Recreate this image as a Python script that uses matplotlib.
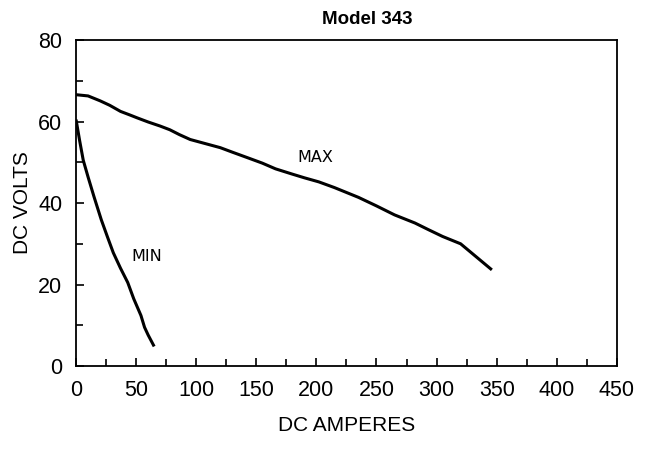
import matplotlib.pyplot as plt
from matplotlib.ticker import MultipleLocator

# curve points
max_amps = [0, 10, 20, 28, 37, 45, 51, 60, 70, 78, 86, 95, 105, 120, 130, 143, 155, 166, 180,
            190, 202, 215, 235, 250, 265, 282, 293, 305, 320, 333, 346]
max_volts = [66.6, 66.3, 65.1, 64.0, 62.5, 61.6, 60.9, 59.9, 58.9, 58.0, 56.8, 55.6, 54.8,
             53.6, 52.5, 51.1, 49.8, 48.4, 47.1, 46.2, 45.2, 43.8, 41.4, 39.3, 37.1, 35.1,
             33.5, 31.8, 30.0, 26.8, 23.6]

min_amps = [0, 3, 6, 10, 15, 21, 26, 31, 37, 43, 48, 54, 57, 60, 65]
min_volts = [60.5, 55.3, 50.5, 46.4, 41.5, 35.9, 31.8, 27.8, 24.0, 20.5, 16.5, 12.4, 9.5, 7.6, 4.8]

plt.rcParams['font.family'] = ['Liberation Sans', 'DejaVu Sans']

fig = plt.figure(figsize=(6.5, 4.59), dpi=100)
ax = fig.add_axes([0.117, 0.2026, 0.832, 0.710])

ax.plot(max_amps, max_volts, color='black', lw=2.2, solid_capstyle='butt')
ax.plot(min_amps, min_volts, color='black', lw=2.2, solid_capstyle='butt')

ax.text(199, 51.2, 'MAX', fontsize=11.5, family='DejaVu Sans', ha='center', va='center')
ax.text(58.5, 27, 'MIN', fontsize=11.5, family='DejaVu Sans', ha='center', va='center')

ax.set_xlim(0, 450)
ax.set_ylim(0, 80)
ax.xaxis.set_major_locator(MultipleLocator(50))
ax.xaxis.set_minor_locator(MultipleLocator(25))
ax.yaxis.set_major_locator(MultipleLocator(20))
ax.yaxis.set_minor_locator(MultipleLocator(10))
ax.tick_params(which='both', direction='in', top=False, right=False, width=1.2)
ax.tick_params(which='major', length=6, labelsize=15.5, pad=10)
ax.tick_params(which='minor', length=5)
for s in ax.spines.values():
    s.set_linewidth(1.3)

ax.set_xlabel('DC AMPERES', fontsize=15, labelpad=11)
ax.set_ylabel('DC VOLTS', fontsize=15, labelpad=4)
fig.text(0.565, 0.958, 'Model 343', fontsize=13.5, fontweight='bold', ha='center', va='center')

fig.savefig('out.png', dpi=100)
